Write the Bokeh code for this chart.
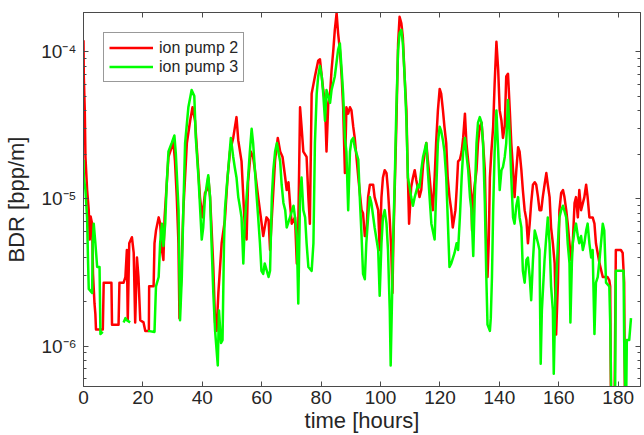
import numpy as np
from bokeh.plotting import figure
from bokeh.models import (Range1d, FixedTicker, LinearAxis, LogAxis, Legend,
                          LegendItem, CustomJSTickFormatter)
from bokeh.embed import file_html
from bokeh.resources import INLINE

series_names = ["ion pump 2", "ion pump 3"]
x_label = "time [hours]"
y_label = "BDR [bpp/m]"
x_ticks = [0, 20, 40, 60, 80, 100, 120, 140, 160, 180]
y_ticks = [1e-6, 1e-5, 1e-4]

red_hours = [0.0, 0.1, 0.43, 0.66, 1.22, 1.77, 2.1, 2.4, 2.9, 3.2, 3.7, 4.0, 4.2, 6.5, 6.8, 9.4, 9.6,
             11.8, 12.1, 13.5, 14.1, 14.6, 14.9, 15.4, 16.3, 16.9, 17.4, 18.0, 18.5, 19.1, 20.2, 20.8,
             22.0, 22.1, 23.6, 23.9, 24.4, 25.3, 25.8, 26.4, 26.9, 27.3, 28.0, 28.6, 29.7, 30.3, 30.8,
             31.4, 31.96, 32.3, 32.9, 33.6, 34.8, 35.9, 36.7, 37.55, 38.4, 39.2, 40.0, 40.9, 41.5, 42.0,
             42.6, 43.1, 43.7, 44.3, 44.8, 45.4, 46.5, 47.6, 48.5, 49.3, 50.4, 51.5, 52.1, 53.2, 53.8,
             54.3, 54.9, 55.4, 56.3, 57.1, 57.7, 58.8, 59.7, 60.5, 61.6,
             62.3, 62.8, 63.4, 64.5, 65.4, 66.2, 67.0, 67.9, 68.4, 69.0, 69.5, 70.1, 71.2, 71.8, 72.3,
             72.9, 73.4, 74.0, 75.1, 75.7, 76.2, 76.8, 77.9, 79.0, 79.6, 80.2, 80.7, 81.3, 81.8, 82.4,
             83.0, 83.5, 84.1, 84.6, 85.2, 85.7, 86.3, 86.9, 87.4, 88.0, 88.5, 89.1, 89.7, 90.2, 90.8,
             91.3, 92.5, 93.6, 94.1, 94.7, 95.2, 95.8, 96.4, 97.5, 98.0, 99.2, 99.7, 100.3, 100.8, 101.4,
             102.0, 102.5, 103.1, 103.6, 104.0, 104.3, 104.8, 105.3, 105.9, 106.4, 107.0, 107.5, 108.1,
             108.7, 109.2, 109.6, 110.3, 110.9, 111.5, 112.0, 113.1, 113.7, 114.3, 114.8, 115.4, 115.9,
             116.5, 117.1, 117.6, 118.2, 118.7, 119.3, 119.9, 120.4, 121.0, 121.5, 122.1, 122.6, 123.2,
             123.8, 124.3,
             125.2, 125.6, 126.1, 126.7, 127.3, 127.8, 128.4, 128.9, 129.5, 130.1, 130.6, 130.8, 131.2,
             131.7, 132.3, 132.8, 133.4, 134.0, 134.5, 135.1, 135.6, 136.0, 136.4, 136.8, 137.3, 137.9,
             138.4, 139.0, 139.6, 140.1, 140.7, 141.2, 141.8, 142.3, 142.9, 143.5, 144.0, 144.6, 145.1,
             145.7, 146.3, 146.8, 147.4, 147.9, 148.5, 149.1, 149.6, 150.2, 150.7, 151.3, 151.9, 152.4,
             153.0, 153.5, 154.1, 154.6, 155.2, 155.8, 156.3, 156.9, 157.4, 158.0, 158.6, 159.1, 159.7,
             160.2, 160.8, 161.4, 161.9, 162.5, 163.0, 163.6, 164.1, 164.7, 165.3, 165.8, 166.4, 166.9,
             167.5, 168.6, 169.2, 169.7, 170.3, 171.4, 172.0, 172.5, 173.7, 174.8, 176.4, 177.0, 177.3,
             177.6, 178.7, 179.2, 180.9, 181.5, 182.0, 182.3]
red_bdr = [1.2e-4, 6.8e-5, 4.0e-5, 1.93e-5, 1.15e-5, 8.4e-6, 5.3e-6, 7.6e-6, 6.8e-6, 3.1e-6, 1.95e-6,
           1.65e-6, 1.3e-6, 1.3e-6, 2.7e-6, 2.7e-6, 1.4e-6,
           1.4e-6, 2.7e-6, 2.7e-6, 2.95e-6, 4.5e-6, 1.5e-6, 5.0e-6, 5.5e-6, 4.3e-6, 1.45e-6, 4.0e-6,
           2.95e-6, 1.5e-6, 1.45e-6, 1.27e-6,
           1.27e-6, 2.55e-6, 2.55e-6, 5.0e-6, 6.1e-6, 7.5e-6, 6.8e-6, 4.5e-6, 3.85e-6, 7.5e-6, 1.25e-5,
           1.93e-5, 2.25e-5, 2.4e-5, 1.8e-5,
           1.03e-5, 5.0e-6, 1.55e-6, 2.95e-6, 8.4e-6, 2.4e-5, 3.4e-5, 4.2e-5, 3.4e-5, 1.85e-5, 1.03e-5,
           7.5e-6, 1.1e-5, 1.15e-5, 1.4e-5,
           1.03e-5, 6.4e-6, 3.45e-6, 1.45e-6, 1.27e-6, 2.3e-6, 5.0e-6, 7.2e-6, 1.4e-5, 2.1e-5, 2.6e-5,
           3.6e-5, 2.5e-5, 1.8e-5, 1.03e-5,
           6.4e-6, 5.3e-6, 1.3e-5, 2.1e-5, 1.93e-5, 1.57e-5, 1.03e-5, 7.5e-6, 5.6e-6, 7.5e-6,
           7.2e-6, 4.5e-6, 7.5e-6, 1.85e-5, 2.6e-5, 2.1e-5, 1.93e-5, 1.4e-5, 1.15e-5, 1.3e-5, 9.4e-6,
           6.8e-6, 7.5e-6, 3.65e-6, 6.4e-6,
           4.2e-5, 3.1e-5, 2.1e-5, 1.93e-5, 1.03e-5, 6.8e-6, 5.2e-5, 6.8e-5, 8.7e-5, 8.9e-5, 6.8e-5,
           5.5e-5, 4.5e-5, 2.1e-5, 4.5e-5,
           5.2e-5, 7.5e-5, 1.03e-4, 1.41e-4, 1.83e-4, 1.34e-4, 1.03e-4, 6.8e-5, 4.2e-5, 1.5e-5, 4.2e-5,
           3.8e-5, 4.2e-5, 4.0e-5, 3.1e-5,
           2.6e-5, 1.4e-5, 8.4e-6, 8.0e-6, 5.6e-6, 5.6e-6, 1.03e-5, 1.25e-5, 1.25e-5, 1.03e-5, 8.4e-6,
           4.5e-6, 1.03e-5, 1.4e-5, 1.57e-5,
           1.5e-5, 1.15e-5, 7.2e-6, 4.5e-6, 2.3e-6, 5.0e-6, 1.25e-5, 3.1e-5, 1.14e-4, 1.73e-4, 1.56e-4,
           1.26e-4, 6.8e-5,
           4.0e-5, 1.4e-5, 6.8e-6, 1.2e-5, 1.4e-5, 1.57e-5, 1.35e-5, 1.03e-5, 1.15e-5, 1.7e-5, 2.0e-5,
           2.4e-5, 1.85e-5,
           1.4e-5, 1.03e-5, 8.4e-6, 1.4e-5, 2.4e-5, 4.0e-5, 5.6e-5, 5.2e-5, 4.0e-5, 3.1e-5, 2.4e-5,
           1.4e-5, 1.03e-5,
           8.4e-6, 6.4e-6,
           8.4e-6, 1.15e-5, 1.8e-5, 1.85e-5, 2.1e-5, 2.6e-5, 3.8e-5, 2.4e-5, 1.8e-5, 1.4e-5, 9.4e-6,
           6.1e-6, 1.03e-5,
           1.25e-5, 1.57e-5, 2.4e-5, 3.1e-5, 3.3e-5, 2.4e-5, 1.57e-5, 5.0e-6, 2.95e-6, 5.0e-6, 1.4e-5,
           2.1e-5, 3.1e-5,
           6.1e-5, 1.17e-4, 7.5e-5, 4.0e-5, 3.4e-5, 2.6e-5, 3.1e-5, 6.8e-5, 7.1e-5, 4.0e-5, 2.4e-5,
           1.57e-5, 1.03e-5,
           1.57e-5, 2.25e-5, 2.1e-5, 1.57e-5, 1.15e-5, 8.4e-6, 7.2e-6, 5.0e-6, 6.8e-6, 9.4e-6, 1.25e-5,
           1.3e-5, 1.25e-5,
           1.03e-5, 8.4e-6, 8.4e-6, 1.03e-5, 1.25e-5, 1.5e-5, 1.25e-5, 1.03e-5, 6.4e-6, 5.0e-6, 3.65e-6,
           1.2e-6, 2.7e-6,
           8.4e-6, 1.1e-5, 1.15e-5, 1.03e-5, 8.4e-6, 6.8e-6, 5.0e-6, 3.85e-6, 5.0e-6, 9.4e-6, 1.03e-5,
           7.5e-6, 1.15e-5,
           8.4e-6, 1.03e-5, 1.25e-5, 1.03e-5, 7.5e-6, 7.5e-6, 6.8e-6, 5.0e-6, 3.65e-6, 2.95e-6, 2.95e-6,
           2.8e-6, 2.55e-6,
           3e-7, 3e-7, 4.5e-6, 4.5e-6, 4.3e-6, 2.7e-6, 3e-7]

# green trace has two short dropouts (None = no reading)
green_hours = [0.0, 0.1, 0.66, 1.2, 1.55, 1.77, 2.9, 3.1, 3.45, 4.0, 4.6, 5.4, 5.7, 6.5, 6.6,
               13.5, 14.1, 14.6, 15.7, 15.8,
               21.7, 23.9, 24.4, 25.3, 25.8, 26.4, 26.9, 27.5, 28.0, 28.6, 29.7, 30.6, 31.1, 32.0, 32.5,
               33.1, 33.6, 34.2, 35.3, 36.4, 37.3, 37.8, 38.7, 39.2, 39.8, 40.3, 40.9, 41.5, 42.0, 42.6,
               43.1, 43.7, 44.3, 45.2, 45.6, 46.3, 46.8, 47.3, 47.6, 48.2, 48.7, 49.6, 50.4, 50.9, 51.5,
               52.1, 52.6, 53.2, 53.8, 54.3, 54.9, 55.4, 56.0, 56.6, 57.1, 57.7, 58.2, 58.8, 59.4, 59.9,
               60.5, 61.0,
               62.3, 62.8, 63.4, 63.9, 64.5, 65.1, 65.6, 66.2, 66.7, 67.3, 67.9, 68.4, 69.5, 70.7, 71.2,
               71.8, 72.3, 72.9, 73.4, 74.0, 74.6, 75.1, 75.7, 76.8, 77.4, 77.9, 78.5, 79.0, 79.6, 80.2,
               80.7, 81.3, 81.8, 82.4, 83.0, 83.5, 84.6, 85.7, 86.3, 86.9, 87.4, 88.0, 88.5, 89.1, 89.7,
               90.2, 90.8, 91.3, 92.5, 93.0, 93.6, 94.1, 94.7, 95.2, 95.8, 96.4, 96.9, 98.0, 99.2, 99.7,
               100.3, 100.8, 101.4, 102.0, 102.5, 103.1, 103.4, 103.9, 104.2, 104.8, 105.3, 105.9, 106.4,
               107.0, 107.5, 108.1, 108.7, 109.2, 109.8, 110.3, 110.9, 111.5, 112.6, 113.1, 113.7, 114.3,
               115.4, 115.9, 116.5, 117.1, 118.2, 118.7, 119.3, 119.9, 120.4, 121.0, 121.5, 122.1, 122.6,
               123.2, 123.8, 124.9,
               125.6, 126.1, 126.7, 127.3, 127.8, 128.4, 128.9, 129.5, 130.1, 130.6, 131.2, 131.7, 132.3,
               132.8, 133.4, 134.0, 134.5, 135.1, 135.6, 136.0, 136.8, 137.1, 137.5, 137.9, 138.4, 139.0,
               139.6, 140.1, 140.7, 141.2, 141.8, 142.3, 142.9, 143.5, 144.0, 144.6, 145.1, 145.7, 146.3,
               146.8, 147.4, 147.9, 148.5, 149.1, 149.6, 150.2, 150.7, 151.3, 151.9, 152.4, 153.0, 153.5,
               153.9, 154.3, 155.2, 155.8, 156.3, 156.9, 157.4, 158.0, 158.3, 158.8, 159.7, 160.2, 160.8,
               161.4, 162.5, 163.0, 163.6, 163.9, 164.4, 164.7, 165.3, 165.8, 166.4, 166.9, 167.5, 168.1,
               168.6, 169.2, 169.7, 170.3, 170.9, 171.4, 172.0, 172.5, 173.1, 173.7, 174.2, 174.8, 175.3,
               175.9, 177.0, 177.3, 177.8, 178.9, 179.2, 181.8, 182.0, 182.6, 182.9, 183.7, 184.3]
green_bdr = [1.85e-5, 1.4e-5, 1.15e-5, 7.5e-6, 3.65e-6, 2.45e-6, 2.3e-6, 5.0e-6, 6.8e-6, 5.0e-6,
             3.45e-6, 3.45e-6, 1.21e-6, 1.25e-6, None,
             1.45e-6, 1.55e-6, 1.5e-6, 1.45e-6, None,
             1.27e-6, 1.25e-6, 2.55e-6, 2.95e-6, 5.0e-6, 6.8e-6, 4.8e-6, 6.8e-6, 1.25e-5, 2.1e-5, 2.4e-5,
             2.7e-5, 2.0e-5, 8.4e-6, 1.5e-6,
             2.95e-6, 8.4e-6, 2.4e-5, 4.2e-5, 5.5e-5, 5.0e-5, 2.6e-5, 1.4e-5, 9.0e-6, 5.3e-6, 6.4e-6,
             1.03e-5, 1.25e-5, 1.45e-5, 1.03e-5,
             5.0e-6, 2.3e-6, 1.27e-6, 7.4e-7, 1.75e-6, 1.05e-6, 1.1e-6, 5.0e-6, 8.4e-6, 1.2e-5, 1.57e-5,
             2.6e-5, 1.93e-5, 1.65e-5, 1.4e-5,
             1.03e-5, 9.0e-6, 7.5e-6, 3.65e-6, 6.8e-6, 1.03e-5, 1.4e-5, 2.1e-5, 3.0e-5, 2.4e-5, 1.57e-5,
             1.1e-5, 7.5e-6, 5.0e-6, 3.25e-6,
             3.1e-6, 3.65e-6,
             2.95e-6, 3.25e-6, 1.03e-5, 1.57e-5, 2.1e-5, 2.4e-5, 2.1e-5, 1.8e-5, 1.25e-5, 9.4e-6, 8.4e-6,
             6.4e-6, 7.5e-6, 9.0e-6, 7.5e-6,
             5.6e-6, 1.95e-6, 1.03e-5, 1.4e-5, 8.4e-6, 7.5e-6, 5.0e-6, 3.45e-6, 3.25e-6, 5.0e-6, 2.4e-5,
             5.2e-5, 6.8e-5, 8.0e-5, 6.8e-5,
             5.2e-5, 3.4e-5, 5.5e-5, 5.0e-5, 4.5e-5, 5.5e-5, 6.8e-5, 1.03e-4, 1.14e-4, 7.5e-5, 5.2e-5,
             2.6e-5, 2.1e-5, 8.4e-6, 2.1e-5,
             2.5e-5, 2.6e-5, 2.25e-5, 1.85e-5, 1.03e-5, 5.6e-6, 3.1e-6, 2.85e-6, 5.0e-6, 7.5e-6, 1.03e-5,
             9.4e-6, 6.4e-6, 4.5e-6, 2.2e-6,
             5.0e-6, 7.5e-6, 8.4e-6, 6.8e-6, 4.5e-6, 1.75e-6, 7.4e-7, 2.3e-6, 5.0e-6, 1.4e-5, 4.0e-5,
             1.03e-4, 1.34e-4,
             1.41e-4, 1.14e-4, 6.8e-5, 3.4e-5, 1.4e-5, 1.2e-5, 1.03e-5, 9.0e-6, 1.03e-5, 1.25e-5, 1.2e-5,
             1.57e-5, 1.93e-5,
             2.4e-5, 1.57e-5, 1.03e-5, 6.8e-6, 5.3e-6, 1.1e-5, 2.4e-5, 3.1e-5, 2.9e-5, 2.5e-5, 2.1e-5,
             1.4e-5, 7.5e-6,
             3.45e-6, 3.65e-6, 4.3e-6,
             5.0e-6, 4.5e-6, 7.5e-6, 1.4e-5, 2.1e-5, 2.6e-5, 2.0e-5, 1.57e-5, 1.03e-5, 8.4e-6, 4.1e-6,
             1.03e-5, 2.4e-5,
             3.3e-5, 3.6e-5, 3.3e-5, 2.4e-5, 9.4e-6, 2.95e-6, 1.4e-6, 1.27e-6, 1.55e-6, 2.95e-6, 8.4e-6,
             2.1e-5, 4.0e-5,
             2.1e-5, 1.15e-5, 1.57e-5, 1.65e-5, 1.93e-5, 2.4e-5, 4.7e-5, 2.6e-5, 1.4e-5, 7.5e-6, 6.8e-6,
             9.0e-6, 1.03e-5,
             7.5e-6, 6.4e-6, 3.25e-6, 2.7e-6, 3.85e-6, 4.0e-6, 2.95e-6, 2.05e-6, 3.85e-6, 6.1e-6, 5.6e-6,
             5.0e-6, 4.5e-6,
             7.6e-7, 1.75e-6, 3.85e-6, 5.6e-6, 7.5e-6, 5.0e-6, 2.55e-6, 1.75e-6, 6.5e-7, 1.95e-6, 5.0e-6,
             7.5e-6, 8.4e-6,
             9.0e-6, 7.5e-6, 5.0e-6, 3.65e-6, 1.45e-6, 3.65e-6, 5.0e-6, 6.1e-6, 6.8e-6, 5.6e-6, 5.0e-6,
             5.6e-6, 4.5e-6,
             5.0e-6, 6.1e-6, 6.8e-6, 5.0e-6, 4.0e-6, 4.5e-6, 1.21e-6, 2.7e-6, 2.95e-6, 3.85e-6, 5.0e-6,
             6.8e-6, 6.1e-6,
             2.7e-6, 2.55e-6, 1.45e-6, 3e-7, 3e-7, 3.25e-6, 3.25e-6, 1.1e-6, 3e-7, 1.1e-6, 1.1e-6, 1.55e-6]

red_y = np.array(red_bdr, dtype=float)
green_y = np.array([np.nan if v is None else v for v in green_bdr], dtype=float)
green_x = np.array(green_hours, dtype=float)

AX = "#4a4a4a"
TXT = "#262626"
FONT = "Liberation Sans"

p = figure(width=644, height=435, output_backend="svg", toolbar_location=None,
           y_axis_type="log", x_range=Range1d(0, 187.5), y_range=Range1d(5.32e-7, 1.85e-4),
           min_border_left=83, min_border_right=0, min_border_top=12, min_border_bottom=40)
p.grid.visible = False
p.outline_line_color = AX
p.background_fill_color = "white"
p.border_fill_color = "white"

bottom = p.below[0]
left = p.left[0]

minor = [m * 10.0 ** k for k in range(-7, -3) for m in range(2, 10)]

sup_js = """
const sup = {"-":"\\u207b","0":"\\u2070","1":"\\u00b9","2":"\\u00b2","3":"\\u00b3","4":"\\u2074",
             "5":"\\u2075","6":"\\u2076","7":"\\u2077","8":"\\u2078","9":"\\u2079"};
const e = Math.round(Math.log10(tick));
return "10" + String(e).split("").map(c => sup[c]).join("");
"""
blank_js = "return ' ';"

bottom.ticker = FixedTicker(ticks=x_ticks)
left.ticker = FixedTicker(ticks=y_ticks, minor_ticks=minor)
left.formatter = CustomJSTickFormatter(code=sup_js)
bottom.axis_label = x_label
left.axis_label = y_label

top = LinearAxis(ticker=FixedTicker(ticks=x_ticks), formatter=CustomJSTickFormatter(code=blank_js),
                 major_label_text_font_size="2px", major_label_standoff=0)
right = LogAxis(ticker=FixedTicker(ticks=y_ticks, minor_ticks=minor),
                formatter=CustomJSTickFormatter(code=blank_js),
                major_label_text_font_size="2px", major_label_standoff=0)
p.add_layout(top, "above")
p.add_layout(right, "right")

for ax in [bottom, left, top, right]:
    ax.axis_line_color = AX
    ax.major_tick_line_color = AX
    ax.minor_tick_line_color = AX
    ax.major_tick_in = 5
    ax.major_tick_out = 0
    ax.minor_tick_in = 3
    ax.minor_tick_out = 0
    ax.major_label_text_font = FONT
    ax.major_label_text_color = TXT
    ax.axis_label_text_font = FONT
    ax.axis_label_text_font_style = "normal"
    ax.axis_label_text_color = TXT
    ax.axis_label_text_font_size = "22px"
for ax in [bottom, top]:
    ax.minor_tick_line_color = None

bottom.major_label_text_font_size = "19px"
left.major_label_text_font_size = "19px"
bottom.major_label_standoff = 4
left.major_label_standoff = 7
bottom.axis_label_standoff = 1
left.axis_label_standoff = 9

r1 = p.line(red_hours, red_y, line_color="#ff0000", line_width=2.5, line_join="round")
r2 = p.line(green_x, green_y, line_color="#00ff00", line_width=2.5, line_join="round")

legend = Legend(items=[LegendItem(label=series_names[0], renderers=[r1]),
                       LegendItem(label=series_names[1], renderers=[r2])],
                location="top_left", margin=20, padding=5, spacing=0,
                glyph_width=44, glyph_height=19, label_height=19, label_standoff=6,
                label_text_font=FONT, label_text_font_size="16px", label_text_color=TXT,
                border_line_color="#333333", border_line_width=1,
                background_fill_color="white", background_fill_alpha=1.0)
p.add_layout(legend)

open("out.html", "w").write(file_html(p, INLINE))
